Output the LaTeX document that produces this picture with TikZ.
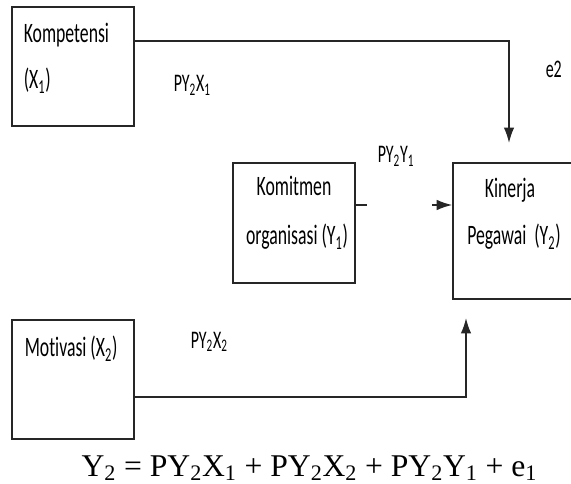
\documentclass[tikz,border=0pt]{standalone}
\usepackage{fontspec}
\setmainfont{Liberation Serif}
\newfontfamily\boxfont[FakeStretch=0.63,Ligatures=NoCommon]{Carlito}
\usetikzlibrary{shapes,arrows,arrows.meta}

\begin{document}
\begin{tikzpicture}[x=0.025cm,y=-0.025cm,line width=1.1pt,
        kotak/.style={rectangle,draw=black!85,inner sep=0pt},
        isi/.style={font=\boxfont\fontsize{20}{24}\selectfont,inner sep=0pt},
        jalur/.style={font=\boxfont\fontsize{18}{22}\selectfont,inner sep=0pt},
        panah/.style={draw=black!85,-{Latex[length=11pt,width=7.5pt]}}]
        \clip (0,0) rectangle (571,484);

        % kotak variabel
        \node[kotak,minimum width=3.05cm,minimum height=2.975cm] (komp) at (73,66.5) {};
        \node[kotak,minimum width=3.05cm,minimum height=3cm] (komit) at (294,223) {};
        \node[kotak,minimum width=3.3cm,minimum height=3.4cm] (kin) at (519,231) {};
        \node[kotak,minimum width=3.05cm,minimum height=2.975cm] (motiv) at (73,379.5) {};

        % teks dalam kotak
        \node[isi,anchor=base west] (komp1) at (23,43) {Kompetensi};
        \node[isi,anchor=base west] (komp2) at (23,89) {(X\textsubscript{1})};
        \node[isi,anchor=base] (komit1) at (294,196) {Komitmen};
        \node[isi,anchor=base] (komit2) at (297,245) {organisasi (Y\textsubscript{1})};
        \node[isi,anchor=base] (kin1) at (510,198) {Kinerja};
        \node[isi,anchor=base] (kin2) at (514,245) {Pegawai\ \ (Y\textsubscript{2})};
        \node[isi,anchor=base west] (motiv1) at (24,357) {Motivasi (X\textsubscript{2})};

        % titik bantu
        \coordinate (b1) at (0,41);
        \coordinate (ujung1) at (509,143);
        \coordinate (b2) at (0,205);
        \coordinate (awal2) at (432,205);
        \coordinate (b3) at (0,397);
        \coordinate (ujung3) at (466,318);

        % garis pengaruh
        \draw[panah] (komp.east |- b1) -| (ujung1);
        \draw[draw=black!85] (komit.east |- b2) -- ++(11,0);
        \draw[panah] (awal2) -- (kin.west |- b2);
        \draw[panah] (motiv.east |- b3) -| (ujung3);

        % koefisien jalur
        \node[jalur,anchor=base west] (p1) at (173,92) {PY\textsubscript{2}X\textsubscript{1}};
        \node[jalur,anchor=base west] (e2) at (545,78) {e2};
        \node[jalur,anchor=base west] (p3) at (377,163) {PY\textsubscript{2}Y\textsubscript{1}};
        \node[jalur,anchor=base west] (p2) at (190,348) {PY\textsubscript{2}X\textsubscript{2}};

        % persamaan
        \node[anchor=base east,inner sep=0pt,font=\fontsize{22.5}{27}\selectfont] (pers) at (538,476)
            {Y\textsubscript{2} = PY\textsubscript{2}X\textsubscript{1} + PY\textsubscript{2}X\textsubscript{2} + PY\textsubscript{2}Y\textsubscript{1} + e\textsubscript{1}};
    \end{tikzpicture}
\end{document}
